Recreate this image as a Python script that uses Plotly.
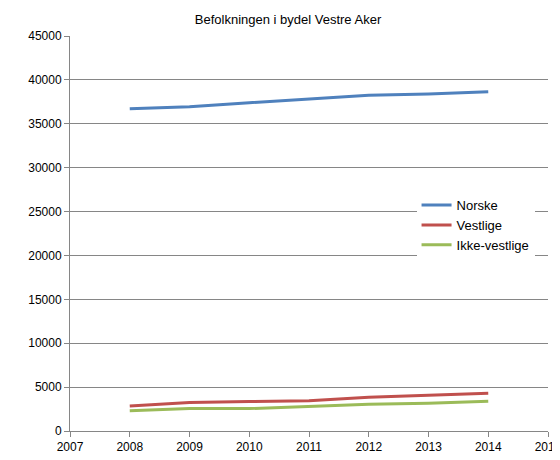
import plotly.graph_objects as go

years = [2008, 2009, 2010, 2011, 2012, 2013, 2014]
norske = [36700, 36950, 37400, 37850, 38250, 38400, 38650]
vestlige = [2850, 3250, 3350, 3450, 3850, 4050, 4300]
ikke_vestlige = [2300, 2550, 2550, 2800, 3050, 3150, 3400]

series = [("Norske", norske, "#4F81BD"),
          ("Vestlige", vestlige, "#C0504D"),
          ("Ikke-vestlige", ikke_vestlige, "#9BBB59")]

fig = go.Figure()
for name, vals, color in series:
    fig.add_trace(go.Scatter(x=years, y=vals, mode="lines", name=name,
                             line=dict(color=color, width=3)))

fig.update_layout(
    width=560, height=460,
    margin=dict(l=62, r=20, t=28, b=37),
    paper_bgcolor="white", plot_bgcolor="white",
    font=dict(family="Liberation Sans, Arial", size=12, color="black"),
    title=dict(text="Befolkningen i bydel Vestre Aker", x=0.5, y=0.985,
               xanchor="center", yanchor="top", font=dict(size=13)),
    legend=dict(x=0.725, y=0.61, xanchor="left", yanchor="top",
                bgcolor="white", font=dict(size=13), tracegroupgap=12,
                traceorder="normal"),
    showlegend=True,
)
fig.update_xaxes(range=[2007, 2015], dtick=1, showgrid=False, automargin=False,
                 showline=True, linecolor="#868686", ticks="outside",
                 ticklen=5, tickcolor="#868686", zeroline=False)
fig.update_yaxes(range=[0, 45000], dtick=5000, tickformat="d", showgrid=True,
                 automargin=False,
                 gridcolor="#868686", gridwidth=1, showline=True,
                 linecolor="#868686", ticks="outside", ticklen=5,
                 tickcolor="#868686", zeroline=False)

fig.write_html("out.html")
